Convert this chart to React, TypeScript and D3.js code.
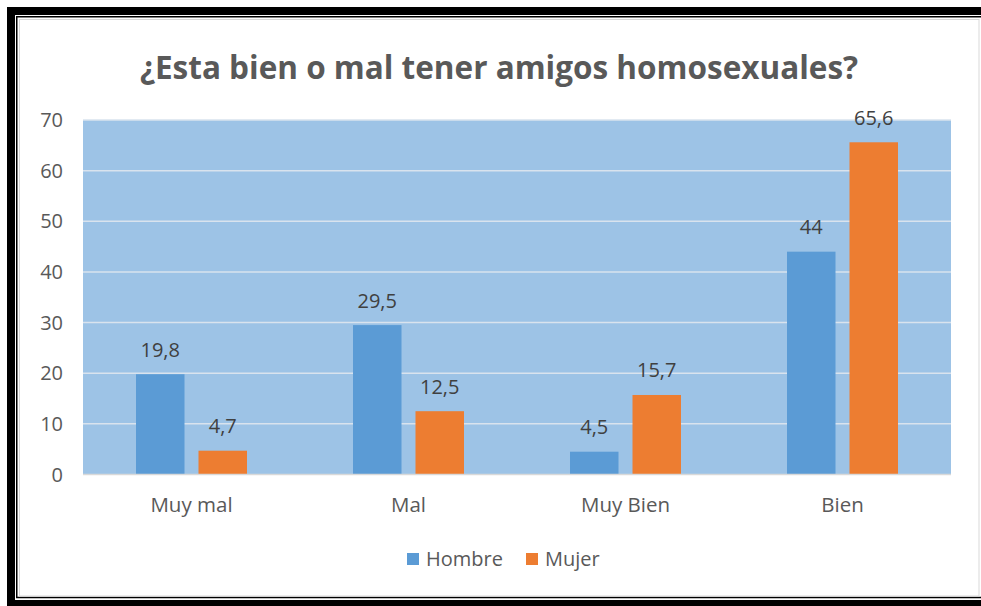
import React, { useRef, useEffect } from "react";
import { select, scaleBand, scaleLinear, range } from "d3";

const title = "¿Esta bien o mal tener amigos homosexuales?";
const categories = ["Muy mal", "Mal", "Muy Bien", "Bien"];
const seriesNames = ["Hombre", "Mujer"];
const hombre = [19.8, 29.5, 4.5, 44];
const mujer = [4.7, 12.5, 15.7, 65.6];
const yTicks = [0, 10, 20, 30, 40, 50, 60, 70];
const colors = ["#5B9BD5", "#ED7D31"];

const W = 981;
const H = 606;
const FONT = "'Open Sans', 'DejaVu Sans', sans-serif";

function App() {
  const svgRef = useRef<SVGSVGElement>(null);

  useEffect(() => {
    const svg = select(svgRef.current);
    svg.selectAll("*").remove();

    // frame
    svg.append("rect").attr("width", W).attr("height", H).attr("fill", "#fff");
    svg.append("rect").attr("x", 11).attr("y", 11).attr("width", 990).attr("height", 593)
      .attr("fill", "none").attr("stroke", "#000").attr("stroke-width", 8);
    svg.append("rect").attr("x", 16.75).attr("y", 16.75).attr("width", 980).attr("height", 580.75)
      .attr("fill", "none").attr("stroke", "#000").attr("stroke-width", 1.5);
    svg.append("rect").attr("x", 19.5).attr("y", 19.5).attr("width", 959.5).attr("height", 576.5)
      .attr("fill", "none").attr("stroke", "#d9d9d9").attr("stroke-width", 1);

    const left = 83, right = 951, top = 120, bottom = 474.5;

    const x0 = scaleBand().domain(categories).range([left, right]);
    const x1 = scaleBand().domain(seriesNames)
      .range([0, x0.bandwidth()])
      .paddingInner(0.224)
      .paddingOuter(53 / 62.5);
    const y = scaleLinear().domain([0, 70]).range([bottom, top]);

    // title
    svg.append("text").attr("x", 499).attr("y", 79).attr("text-anchor", "middle")
      .attr("font-family", FONT).attr("font-weight", "bold").attr("font-size", 31.5)
      .attr("fill", "#595959").text(title);

    // plot background
    svg.append("rect").attr("x", left).attr("y", top).attr("width", right - left)
      .attr("height", bottom - top).attr("fill", "#9DC3E6");

    svg.append("g").selectAll("line").data(yTicks.filter((t) => t > 0)).join("line")
      .attr("x1", left).attr("x2", right)
      .attr("y1", (d) => y(d)).attr("y2", (d) => y(d))
      .attr("stroke", "#d9e3ee").attr("stroke-width", 1.5);

    svg.append("g").selectAll("text").data(yTicks).join("text")
      .attr("x", 63).attr("y", (d) => y(d) + 7).attr("text-anchor", "end")
      .attr("font-family", FONT).attr("font-size", 20).attr("fill", "#595959")
      .text((d) => d);

    const data = [hombre, mujer];
    const rows = range(categories.length).flatMap((i) =>
      seriesNames.map((s, j) => ({ cat: categories[i], s, j, v: data[j][i] }))
    );

    svg.append("g").selectAll("rect").data(rows).join("rect")
      .attr("x", (d) => (x0(d.cat) ?? 0) + (x1(d.s) ?? 0))
      .attr("y", (d) => y(d.v))
      .attr("width", x1.bandwidth())
      .attr("height", (d) => bottom - y(d.v))
      .attr("fill", (d) => colors[d.j]);

    svg.append("g").selectAll("text").data(rows).join("text")
      .attr("x", (d) => (x0(d.cat) ?? 0) + (x1(d.s) ?? 0) + x1.bandwidth() / 2)
      .attr("y", (d) => y(d.v) - 17.5)
      .attr("text-anchor", "middle")
      .attr("font-family", FONT).attr("font-size", 20).attr("fill", "#404040")
      .text((d) => String(d.v).replace(".", ","));

    // axis line
    svg.append("line").attr("x1", left).attr("x2", right).attr("y1", bottom).attr("y2", bottom)
      .attr("stroke", "#d9d9d9").attr("stroke-width", 1.5);

    svg.append("g").selectAll("text").data(categories).join("text")
      .attr("x", (d) => (x0(d) ?? 0) + x0.bandwidth() / 2).attr("y", 512)
      .attr("text-anchor", "middle")
      .attr("font-family", FONT).attr("font-size", 20.5).attr("fill", "#595959")
      .text((d) => d);

    // legend
    const legendX = [407, 526];
    const lg = svg.append("g").selectAll("g").data(seriesNames).join("g")
      .attr("transform", (d, i) => `translate(${legendX[i]},553)`);
    lg.append("rect").attr("width", 12).attr("height", 12).attr("fill", (d, i) => colors[i]);
    lg.append("text").attr("x", 19).attr("y", 12.5)
      .attr("font-family", FONT).attr("font-size", 20).attr("fill", "#595959")
      .text((d) => d);
  }, []);

  return (
    <div style={{ position: "absolute", left: 0, top: 0 }}>
      <svg ref={svgRef} width={W} height={H} style={{ display: "block" }}></svg>
    </div>
  );
}

export default App;
